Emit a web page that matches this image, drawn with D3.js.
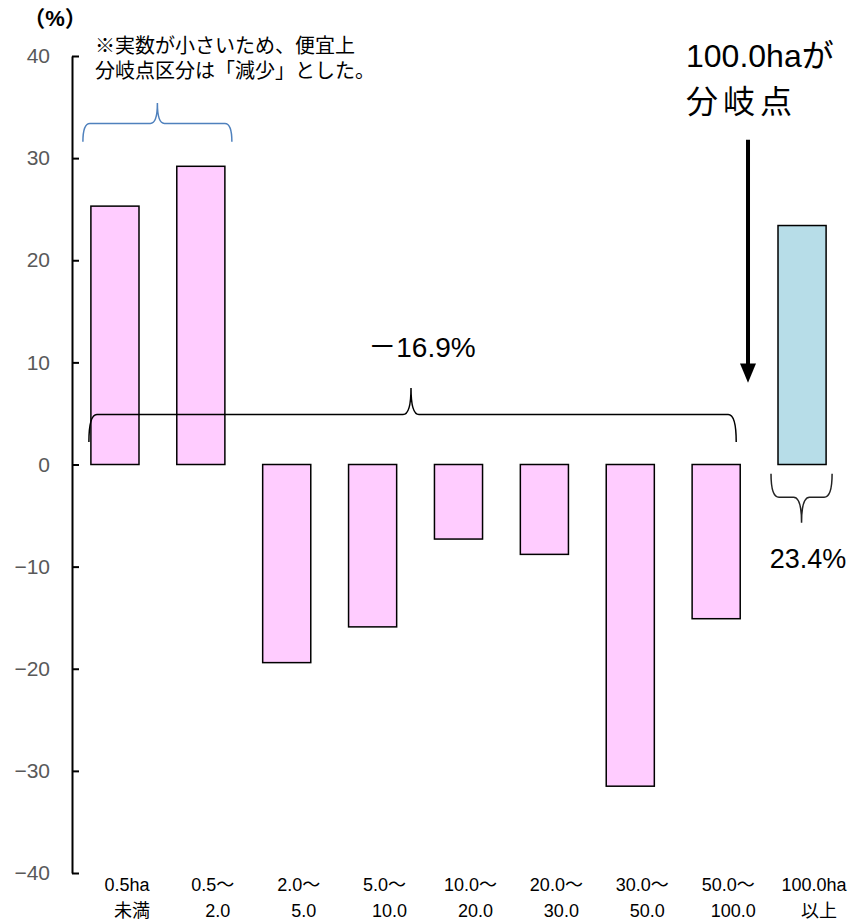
<!DOCTYPE html>
<html>
<head>
<meta charset="utf-8">
<script src="https://cdn.jsdelivr.net/npm/d3@7"></script>
<style>
  body { margin: 0; background: #fff; }
  svg { display: block; font-family: "Liberation Sans", Arial, "Noto Sans CJK JP", sans-serif; }
</style>
</head>
<body>
<div id="chart"></div>
<script>
// data
const labelTop = ["0.5ha", "0.5～", "2.0～", "5.0～", "10.0～", "20.0～", "30.0～", "50.0～", "100.0ha"];
const labelBottom = ["未満", "2.0", "5.0", "10.0", "20.0", "30.0", "50.0", "100.0", "以上"];
const changeRates = [25.3, 29.2, -19.4, -15.9, -7.3, -8.8, -31.5, -15.1, 23.4];
const sizeGroup = ["under", "under", "under", "under", "under", "under", "under", "under", "over"];
const yTicks = [-40, -30, -20, -10, 0, 10, 20, 30, 40];

const width = 861, height = 921;

const svg = d3.select("#chart").append("svg")
    .attr("width", width)
    .attr("height", height);

svg.append("rect").attr("width", width).attr("height", height).attr("fill", "#fff");

// scales
const x = d3.scaleBand()
    .domain(d3.range(changeRates.length))
    .range([72, 845])
    .paddingInner(0.44)
    .paddingOuter(0.22);

const y = d3.scaleLinear()
    .domain([-40, 40])
    .range([873, 56]);

const color = d3.scaleOrdinal()
    .domain(["under", "over"])
    .range(["#FFCCFF", "#B7DDE8"]);

// y axis, ticks point inward
const yAxis = svg.append("g")
    .attr("transform", "translate(72,0)")
    .call(d3.axisLeft(y).tickValues(yTicks).tickSizeInner(-7).tickSizeOuter(0).tickPadding(22));

yAxis.select(".domain").attr("stroke", "#000").attr("stroke-width", 2);
yAxis.selectAll(".tick line").attr("stroke", "#000").attr("stroke-width", 2);
yAxis.selectAll(".tick text")
    .attr("font-size", 21)
    .attr("fill", "#595959")
    .attr("font-family", "Liberation Sans, Arial, sans-serif");

svg.append("text")
    .attr("x", 55)
    .attr("y", 26)
    .attr("text-anchor", "middle")
    .attr("font-size", 22)
    .attr("font-weight", "bold")
    .text("（%）");

// bars
svg.append("g").selectAll("rect")
    .data(changeRates)
    .enter()
    .append("rect")
    .attr("x", (d, i) => x(i))
    .attr("y", d => y(Math.max(0, d)))
    .attr("width", x.bandwidth())
    .attr("height", d => Math.abs(y(d) - y(0)))
    .attr("fill", (d, i) => color(sizeGroup[i]))
    .attr("stroke", "#000")
    .attr("stroke-width", 1.5);

// category labels (two lines)
const lbl = svg.append("g").attr("font-size", 18).attr("fill", "#000");
lbl.selectAll("text.l1")
    .data(labelTop)
    .enter()
    .append("text")
    .attr("class", "l1")
    .attr("x", (d, i) => x(i) + x.bandwidth() / 2 + 12)
    .attr("y", 891)
    .attr("text-anchor", "middle")
    .text(d => d);
lbl.selectAll("text.l2")
    .data(labelBottom)
    .enter()
    .append("text")
    .attr("class", "l2")
    .attr("x", (d, i) => x(i) + x.bandwidth() / 2 + 17)
    .attr("y", 917)
    .attr("text-anchor", "middle")
    .text(d => d);

// curly brace path
function brace(x0, x1, yLine, yEnd, xTip, yTip, r) {
    return `M${x0},${yEnd} Q${x0},${yLine} ${x0 + r},${yLine} L${xTip - r},${yLine} ` +
        `Q${xTip},${yLine} ${xTip},${yTip} Q${xTip},${yLine} ${xTip + r},${yLine} ` +
        `L${x1 - r},${yLine} Q${x1},${yLine} ${x1},${yEnd}`;
}

// blue brace over the two smallest classes
const bx0 = x(0) - 8, bx1 = x(1) + x.bandwidth() + 7;
svg.append("path")
    .attr("d", brace(bx0, bx1, y(33.4), y(31.6), (bx0 + bx1) / 2, y(35.4), 7))
    .attr("fill", "none")
    .attr("stroke", "#4F81BD")
    .attr("stroke-width", 1.5);

svg.append("text")
    .attr("font-size", 20)
    .attr("fill", "#000")
    .selectAll("tspan")
    .data(["※実数が小さいため、便宜上", "分岐点区分は「減少」とした。"])
    .enter()
    .append("tspan")
    .attr("x", 95)
    .attr("y", (d, i) => 53 + i * 25)
    .text(d => d);

// black brace across the decreasing classes
const kx0 = x(0) - 2, kx1 = x(7) + x.bandwidth() - 4;
svg.append("path")
    .attr("d", brace(kx0, kx1, y(4.9), y(2.2), 411, y(7.5), 8))
    .attr("fill", "none")
    .attr("stroke", "#000")
    .attr("stroke-width", 1.5);

svg.append("text")
    .attr("x", 422)
    .attr("y", 357)
    .attr("text-anchor", "middle")
    .attr("font-size", 28)
    .text("－16.9%");

// brace under the largest class
const rx0 = x(8) - 7, rx1 = x(8) + x.bandwidth() + 6;
svg.append("path")
    .attr("d", brace(rx0, rx1, y(-3.2), y(-0.9), (rx0 + rx1) / 2, y(-5.7), 8))
    .attr("fill", "none")
    .attr("stroke", "#222")
    .attr("stroke-width", 1.5);

svg.append("text")
    .attr("x", 808)
    .attr("y", 568)
    .attr("text-anchor", "middle")
    .attr("font-size", 27)
    .text("23.4%");

// arrow pointing at the branch point
const ax = x(8) - 30;
svg.append("line")
    .attr("x1", ax).attr("x2", ax)
    .attr("y1", y(31.8)).attr("y2", y(9.8))
    .attr("stroke", "#000")
    .attr("stroke-width", 4);
svg.append("path")
    .attr("d", `M${ax - 8},${y(9.9)} L${ax + 8},${y(9.9)} L${ax},${y(8.0)} Z`)
    .attr("fill", "#000");

svg.append("text")
    .attr("font-size", 32)
    .attr("fill", "#000")
    .selectAll("tspan")
    .data(["100.0haが", "分岐点"])
    .enter()
    .append("tspan")
    .attr("x", 686)
    .attr("y", (d, i) => 67 + i * 46)
    .attr("letter-spacing", (d, i) => i === 1 ? 5 : 0)
    .text(d => d);
</script>
</body>
</html>
